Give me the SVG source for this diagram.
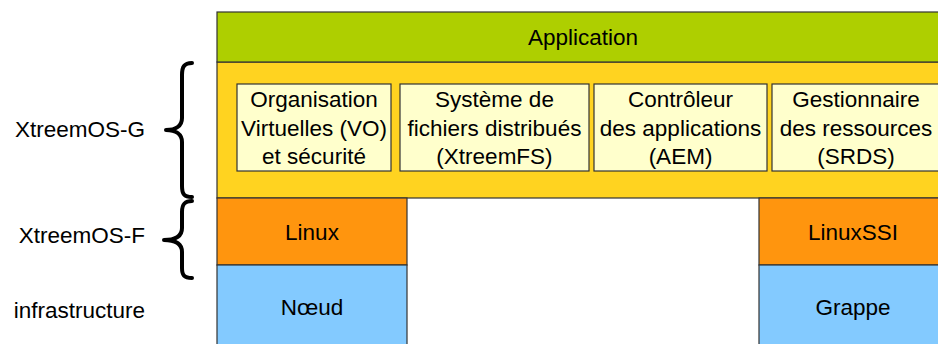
<svg xmlns="http://www.w3.org/2000/svg" width="938" height="344" viewBox="0 0 938 344">
<style>
text{font-family:"Liberation Sans",Arial,sans-serif;font-size:22.5px;fill:#000}
.c{text-anchor:middle}
.l{text-anchor:end}
.bx{stroke:#333;stroke-width:1.2}
.brace{fill:none;stroke:#000;stroke-width:4;stroke-linecap:round;stroke-linejoin:round}
</style>
<rect width="938" height="344" fill="#fff"/>
<g id="yellowband"><rect class="bx" x="217" y="62" width="740" height="136" fill="#FFD320"/></g>
<g id="application"><rect class="bx" x="217" y="12" width="740" height="50" fill="#AECF00"/><text class="c" x="583" y="45">Application</text></g>
<g id="vo"><rect class="bx" x="237" y="84" width="154" height="87" fill="#FFFFCC"/><text class="c" x="314" y="107">Organisation</text><text class="c" x="314" y="136">Virtuelles (VO)</text><text class="c" x="314" y="164">et sécurité</text></g>
<g id="xtreemfs"><rect class="bx" x="400" y="84" width="189" height="87" fill="#FFFFCC"/><text class="c" x="494.5" y="107">Système de</text><text class="c" x="494.5" y="136">fichiers distribués</text><text class="c" x="494.5" y="164">(XtreemFS)</text></g>
<g id="aem"><rect class="bx" x="594" y="84" width="173" height="87" fill="#FFFFCC"/><text class="c" x="680.5" y="107">Contrôleur</text><text class="c" x="680.5" y="136">des applications</text><text class="c" x="680.5" y="164">(AEM)</text></g>
<g id="srds"><rect class="bx" x="772" y="84" width="168" height="87" fill="#FFFFCC"/><text class="c" x="856" y="107">Gestionnaire</text><text class="c" x="856" y="136">des ressources</text><text class="c" x="856" y="164">(SRDS)</text></g>
<g id="linux"><rect class="bx" x="217" y="198" width="190" height="67" fill="#FF950E"/><text class="c" x="312" y="240">Linux</text></g>
<g id="noeud"><rect class="bx" x="217" y="265" width="190" height="90" fill="#83CAFF"/><text class="c" x="312" y="315">Nœud</text></g>
<g id="linuxssi"><rect class="bx" x="759" y="198" width="200" height="67" fill="#FF950E"/><text class="c" x="853" y="240">LinuxSSI</text></g>
<g id="grappe"><rect class="bx" x="759" y="265" width="200" height="90" fill="#83CAFF"/><text class="c" x="853" y="315">Grappe</text></g>
<g id="labels">
<text class="l" x="145" y="137">XtreemOS-G</text>
<text class="l" x="145" y="243">XtreemOS-F</text>
<text class="l" x="145" y="318">infrastructure</text>
</g>
<g id="connectors">
<path class="brace" d="M192,63 C184,63 182,67 182,75 L182,118 C182,126 176,130 166,130 C176,130 182,134 182,142 L182,186 C182,194 184,197 192,197"/>
<path class="brace" d="M192,201 C184,201 182,205 182,212 L182,228 C182,236 176,240 164,240 C176,240 182,244 182,252 L182,268 C182,275 184,278 192,278"/>
</g>
</svg>
